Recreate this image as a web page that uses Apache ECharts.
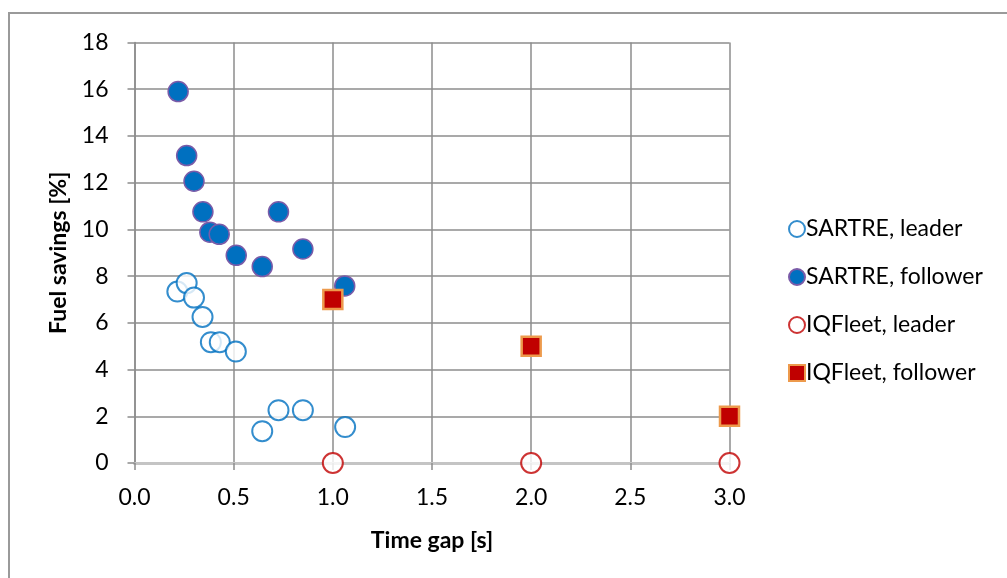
<!DOCTYPE html>
<html>
<head>
<meta charset="utf-8">
<script src="https://cdn.jsdelivr.net/npm/echarts@6/dist/echarts.min.js"></script>
<style>
  html, body { margin: 0; padding: 0; background: #fff; }
  #main { width: 1007px; height: 578px; }
</style>
</head>
<body>
<div id="main"></div>
<script>
// values
var sartreLeader = [
  [0.216, 7.34], [0.263, 7.70], [0.30, 7.08], [0.343, 6.25], [0.385, 5.17], [0.43, 5.17],
  [0.511, 4.77], [0.644, 1.36], [0.726, 2.26], [0.849, 2.26], [1.062, 1.54]
];
var sartreFollower = [
  [0.22, 15.9], [0.263, 13.16], [0.30, 12.06], [0.345, 10.75], [0.38, 9.88], [0.427, 9.79],
  [0.513, 8.89], [0.644, 8.41], [0.726, 10.75], [0.849, 9.16], [1.06, 7.58]
];
var iqLeader = [[1, 0], [2, 0], [3, 0]];
var iqFollower = [[1, 7], [2, 5], [3, 2]];
var seriesNames = ['SARTRE, leader', 'SARTRE, follower', 'IQFleet, leader', 'IQFleet, follower'];

var font = 'Lato, "Open Sans", sans-serif';
var gridColor = '#8c8c8c';

var myChart = echarts.init(document.getElementById('main'));
var option = {
  animation: false,
  backgroundColor: '#fff',
  textStyle: { fontFamily: font },
  graphic: [{
    type: 'polyline',
    shape: { points: [[9, 600], [9, 13], [1010, 13]] },
    style: { stroke: '#9a9a9a', lineWidth: 2, fill: null }
  }],
  grid: { left: 134.5, top: 42.5, right: 277.5, bottom: 115 },
  legend: {
    orient: 'vertical',
    left: 783,
    top: 212,
    itemWidth: 16,
    itemHeight: 16,
    itemGap: 24,
    textStyle: { fontSize: 23, color: '#000', fontFamily: font, lineHeight: 24, padding: [0, 0, 0, -4] },
    data: seriesNames
  },
  xAxis: {
    type: 'value',
    min: 0, max: 3, interval: 0.5,
    name: 'Time gap [s]',
    nameLocation: 'middle',
    nameGap: 66,
    nameTextStyle: { fontSize: 23, fontWeight: 'bold', color: '#000', fontFamily: font },
    axisLine: { onZero: false, lineStyle: { color: '#c4c4c4', width: 3 } },
    axisTick: { show: true, length: 7, lineStyle: { color: gridColor, width: 1.5 } },
    axisLabel: { fontSize: 23, color: '#000', margin: 23, formatter: function (v) { return v.toFixed(1); } },
    splitLine: { show: true, lineStyle: { color: gridColor, width: 1.5 } }
  },
  yAxis: {
    type: 'value',
    min: 0, max: 18, interval: 2,
    name: 'Fuel savings [%]',
    nameLocation: 'middle',
    nameGap: 64,
    nameRotate: 90,
    nameTextStyle: { fontSize: 23, fontWeight: 'bold', color: '#000', fontFamily: font },
    axisLine: { show: true, lineStyle: { color: gridColor, width: 1.5 } },
    axisTick: { show: true, length: 7, lineStyle: { color: gridColor, width: 1.5 } },
    axisLabel: { fontSize: 23, color: '#000', margin: 26 },
    splitLine: { show: true, lineStyle: { color: gridColor, width: 1.5 } }
  },
  series: [
    {
      name: seriesNames[0], type: 'scatter', symbol: 'circle', symbolSize: 20,
      itemStyle: { color: '#fff', borderColor: '#0070C0', borderWidth: 2 },
      data: sartreLeader
    },
    {
      name: seriesNames[1], type: 'scatter', symbol: 'circle', symbolSize: 20,
      itemStyle: { color: '#0070C0', borderColor: '#7a5ba8', borderWidth: 1.5, opacity: 1 },
      data: sartreFollower
    },
    {
      name: seriesNames[2], type: 'scatter', symbol: 'circle', symbolSize: 20,
      itemStyle: { color: '#fff', borderColor: '#C00000', borderWidth: 2 },
      data: iqLeader
    },
    {
      name: seriesNames[3], type: 'scatter', symbol: 'rect', symbolSize: 19,
      itemStyle: { color: '#C00000', borderColor: '#ED9A4C', borderWidth: 2.5, opacity: 1 },
      data: iqFollower
    }
  ]
};
myChart.setOption(option);
</script>
</body>
</html>
